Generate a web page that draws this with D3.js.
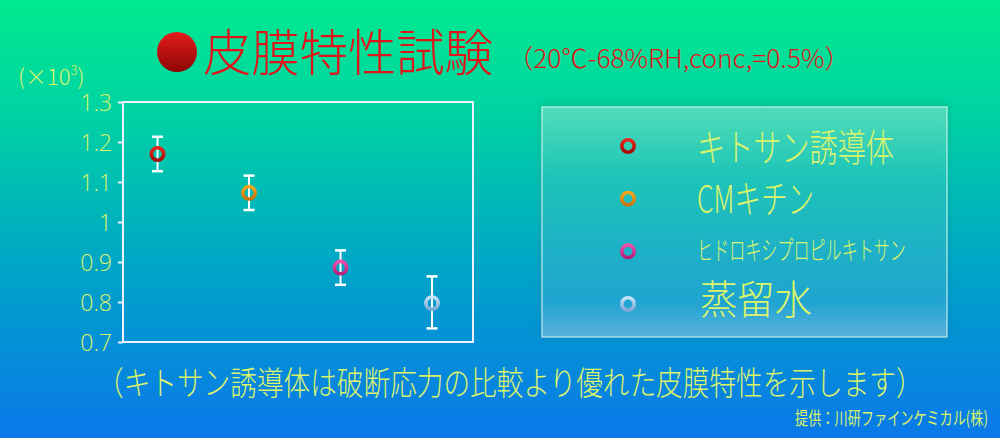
<!DOCTYPE html>
<html>
<head>
<meta charset="utf-8">
<script src="https://cdn.jsdelivr.net/npm/d3@7"></script>
<style>
  body { margin: 0; padding: 0; overflow: hidden; }
  svg { display: block; }
</style>
</head>
<body>
<svg id="vis" width="1000" height="438"></svg>
<script>
// data (values x10^3)
var samples = ["キトサン誘導体", "CMキチン", "ヒドロキシプロピルキトサン", "蒸留水"];
var means = [1.17, 1.073, 0.886, 0.797];
var errUp = [0.043, 0.043, 0.043, 0.067];
var errDown = [0.043, 0.043, 0.043, 0.063];
var yTicks = [0.7, 0.8, 0.9, 1.0, 1.1, 1.2, 1.3];
var yTickLabels = ["0.7", "0.8", "0.9", "1", "1.1", "1.2", "1.3"];
var ringColors = ["#e8261d", "#f7a81c", "#f24fae", "#c8e4fb"];
var ringDark = ["#a80d08", "#cc720a", "#b81e78", "#7fa9d6"];

var svg = d3.select("#vis");
var defs = svg.append("defs");

// squeeze a text horizontally to a given width (narrow font look)
function squeeze(sel, x, y, width){
  sel.each(function(){
    var w = this.getComputedTextLength();
    var s = width / w;
    d3.select(this).attr("x", 0).attr("y", 0)
      .attr("transform", "translate(" + x + "," + y + ") scale(" + s + ",1)");
  });
}

// background gradient
var bg = defs.append("linearGradient").attr("id", "bg")
  .attr("x1", 0).attr("y1", 0).attr("x2", 0).attr("y2", 1);
bg.append("stop").attr("offset", "0%").attr("stop-color", "#00ea8e");
bg.append("stop").attr("offset", "25%").attr("stop-color", "#00d4a2");
bg.append("stop").attr("offset", "60%").attr("stop-color", "#00a6c6");
bg.append("stop").attr("offset", "100%").attr("stop-color", "#0a78ea");
svg.append("rect").attr("width", 1000).attr("height", 438).attr("fill", "url(#bg)");

// title ball gradient
var ball = defs.append("linearGradient").attr("id", "ball")
  .attr("x1", 0).attr("y1", 0).attr("x2", 0).attr("y2", 1);
ball.append("stop").attr("offset", "0%").attr("stop-color", "#e61c1c");
ball.append("stop").attr("offset", "100%").attr("stop-color", "#8c0606");

// ring gradients
ringColors.forEach(function(c, i){
  var g = defs.append("linearGradient").attr("id", "ring" + i)
    .attr("x1", 0).attr("y1", 0).attr("x2", 0).attr("y2", 1);
  g.append("stop").attr("offset", "0%").attr("stop-color", c);
  g.append("stop").attr("offset", "100%").attr("stop-color", ringDark[i]);
});

// legend panel gradient
var lg = defs.append("linearGradient").attr("id", "panel")
  .attr("x1", 0).attr("y1", 0).attr("x2", 0).attr("y2", 1);
lg.append("stop").attr("offset", "0%").attr("stop-color", "#ffffff").attr("stop-opacity", 0.28);
lg.append("stop").attr("offset", "30%").attr("stop-color", "#ffffff").attr("stop-opacity", 0.1);
lg.append("stop").attr("offset", "85%").attr("stop-color", "#ffffff").attr("stop-opacity", 0.1);
lg.append("stop").attr("offset", "100%").attr("stop-color", "#ffffff").attr("stop-opacity", 0.3);

var shadow = defs.append("filter").attr("id", "shadow")
  .attr("x", "-10%").attr("y", "-10%").attr("width", "120%").attr("height", "120%");
shadow.append("feGaussianBlur").attr("in", "SourceAlpha").attr("stdDeviation", 4);
shadow.append("feOffset").attr("dx", 0).attr("dy", -1).attr("result", "b");
shadow.append("feComponentTransfer").append("feFuncA").attr("type", "linear").attr("slope", 0.35);
var fm = shadow.append("feMerge");
fm.append("feMergeNode");
fm.append("feMergeNode").attr("in", "SourceGraphic");

var yellow = "#dcf46a";
var jp = "'Noto Sans CJK JP', 'Noto Sans', sans-serif";

// title
svg.append("circle").attr("cx", 177).attr("cy", 52).attr("r", 20).attr("fill", "url(#ball)");
svg.append("text")
  .attr("font-family", jp).attr("font-size", 50).attr("font-weight", 300)
  .attr("fill", "#e0141a")
  .text("皮膜特性試験")
  .call(squeeze, 203, 71, 290);
svg.append("text")
  .attr("font-family", jp).attr("font-size", 26).attr("font-weight", 300)
  .attr("fill", "#e0141a")
  .text("（20℃-68%RH,conc,=0.5%）")
  .call(squeeze, 507, 68, 344);

// plot
var margin = {top: 102, left: 123, right: 527, bottom: 96};
var plotWidth = 1000 - margin.left - margin.right;
var plotHeight = 438 - margin.top - margin.bottom;

var yScale = d3.scaleLinear().domain([0.7, 1.3]).range([plotHeight, 0]);
var xScale = d3.scalePoint().domain(samples).range([34.5, 309]);

var plot = svg.append("g").attr("id", "plot")
  .attr("transform", "translate(" + margin.left + "," + margin.top + ")");

plot.append("rect")
  .attr("width", plotWidth).attr("height", plotHeight)
  .attr("fill", "none").attr("stroke", "#eef0ff").attr("stroke-width", 2);

var yAxis = d3.axisLeft(yScale).tickValues(yTicks).tickSize(5).tickPadding(6)
  .tickFormat(function(d, i){ return yTickLabels[i]; });
var yGroup = plot.append("g").attr("id", "y-axis").call(yAxis);
yGroup.select(".domain").remove();
yGroup.selectAll(".tick line").attr("stroke", "#eef0ff").attr("stroke-width", 2);
yGroup.selectAll(".tick text")
  .attr("fill", yellow).attr("font-family", "'Open Sans', sans-serif")
  .attr("font-weight", 300).attr("font-size", 23).attr("dy", "0.36em");

var unit = svg.append("text")
  .attr("x", 18).attr("y", 85)
  .attr("font-family", jp).attr("font-weight", 300)
  .attr("font-size", 22).attr("fill", yellow);
unit.append("tspan").text("(×10");
unit.append("tspan").attr("font-size", 13).attr("dy", -10).text("3");
unit.append("tspan").attr("dy", 10).text(")");

// error bars
var pts = samples.map(function(s, i){
  return {name: s, mean: means[i], hi: means[i] + errUp[i], lo: means[i] - errDown[i], i: i};
});
var eb = plot.selectAll("g.err").data(pts).enter().append("g").attr("class", "err");
eb.append("line")
  .attr("x1", function(d){ return xScale(d.name); })
  .attr("x2", function(d){ return xScale(d.name); })
  .attr("y1", function(d){ return yScale(d.hi); })
  .attr("y2", function(d){ return yScale(d.lo); })
  .attr("stroke", "#ffffff").attr("stroke-width", 2);
eb.append("line")
  .attr("x1", function(d){ return xScale(d.name) - 5.5; })
  .attr("x2", function(d){ return xScale(d.name) + 5.5; })
  .attr("y1", function(d){ return yScale(d.hi); })
  .attr("y2", function(d){ return yScale(d.hi); })
  .attr("stroke", "#ffffff").attr("stroke-width", 2.5);
eb.append("line")
  .attr("x1", function(d){ return xScale(d.name) - 5.5; })
  .attr("x2", function(d){ return xScale(d.name) + 5.5; })
  .attr("y1", function(d){ return yScale(d.lo); })
  .attr("y2", function(d){ return yScale(d.lo); })
  .attr("stroke", "#ffffff").attr("stroke-width", 2.5);

function ring(sel){
  sel.attr("r", 6.2)
    .attr("fill", "none")
    .attr("stroke", function(d){ return "url(#ring" + d.i + ")"; })
    .attr("stroke-width", 3.6);
}
plot.selectAll("circle.pt").data(pts).enter().append("circle")
  .attr("class", "pt")
  .attr("cx", function(d){ return xScale(d.name); })
  .attr("cy", function(d){ return yScale(d.mean); })
  .call(ring);

// legend
var legend = svg.append("g").attr("id", "legend");
legend.append("rect")
  .attr("x", 542).attr("y", 107).attr("width", 405).attr("height", 230)
  .attr("fill", "url(#panel)")
  .attr("stroke", "#d8f4ee").attr("stroke-opacity", 0.7).attr("stroke-width", 1.5)
  .attr("filter", "url(#shadow)");

var legendY = d3.scalePoint().domain(samples).range([146, 304]);
var legendFont = [38, 39, 26, 40];
var legendLen = [197, 117, 209, 112];
var legendDy = [15, 14, 9, 10];
legend.selectAll("circle").data(pts).enter().append("circle")
  .attr("cx", 628)
  .attr("cy", function(d){ return legendY(d.name); })
  .call(ring);
legend.selectAll("text").data(pts).enter().append("text")
  .attr("font-family", jp).attr("font-weight", 300)
  .attr("font-size", function(d){ return legendFont[d.i]; })
  .attr("fill", yellow)
  .text(function(d){ return d.name; })
  .each(function(d){
    d3.select(this).call(squeeze, d.i == 3 ? 700 : 697,
      legendY(d.name) + legendDy[d.i], legendLen[d.i]);
  });

// footnotes
svg.append("text")
  .attr("font-family", jp).attr("font-weight", 300).attr("font-size", 33)
  .attr("fill", yellow)
  .text("（キトサン誘導体は破断応力の比較より優れた皮膜特性を示します）")
  .call(squeeze, 97, 395, 826);
svg.append("text")
  .attr("font-family", jp).attr("font-size", 18)
  .attr("fill", yellow)
  .text("提供：川研ファインケミカル(株)")
  .call(squeeze, 795, 425, 193);
</script>
</body>
</html>
